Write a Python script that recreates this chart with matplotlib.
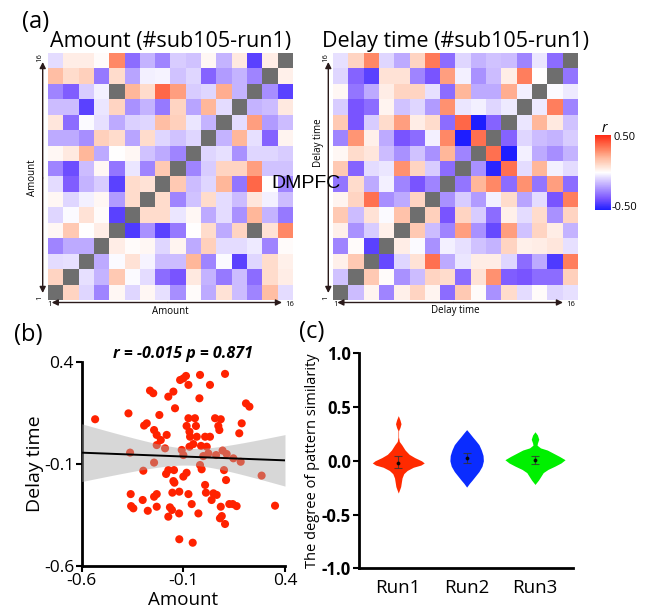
import numpy as np
import matplotlib
matplotlib.use("Agg")
import matplotlib.pyplot as plt
from matplotlib.colors import LinearSegmentedColormap
from matplotlib.patches import FancyArrowPatch

plt.rcParams['font.family'] = ['Open Sans', 'DejaVu Sans']
plt.rcParams['axes.unicode_minus'] = False

nan = np.nan

# RSA matrices, rows listed from top (item 16) to bottom (item 1), columns 1..16
amount_rsm = [
    [-0.07, 0.05, 0.05, 0.01, 0.30, -0.30, -0.15, -0.25, -0.10, -0.12, 0.02, -0.15, 0.06, -0.40, 0.05, nan],
    [0.18, 0.10, 0.13, -0.27, 0.10, -0.18, -0.03, -0.02, -0.12, -0.08, -0.32, -0.20, -0.15, -0.25, nan, 0.04],
    [-0.25, -0.33, -0.10, -0.03, nan, 0.20, 0.10, 0.37, 0.25, -0.10, -0.08, 0.22, -0.15, nan, -0.23, -0.40],
    [-0.13, -0.13, -0.40, -0.05, 0.12, -0.22, -0.15, -0.27, 0.12, -0.18, 0.20, -0.07, nan, -0.15, -0.13, 0.06],
    [0.07, -0.30, -0.01, -0.06, -0.17, -0.09, -0.08, 0.18, 0.13, -0.05, -0.15, nan, -0.07, 0.25, -0.20, -0.13],
    [-0.17, -0.17, -0.23, 0.13, 0.10, -0.18, 0.10, -0.08, -0.12, -0.08, nan, -0.15, 0.20, -0.06, -0.32, 0.03],
    [0.02, 0.06, 0.20, -0.17, 0.00, 0.02, -0.12, -0.17, -0.25, nan, -0.08, -0.06, -0.22, -0.08, -0.08, -0.10],
    [-0.25, -0.37, -0.13, 0.02, -0.28, -0.05, -0.25, 0.15, nan, -0.25, -0.10, 0.12, 0.12, 0.25, -0.12, -0.12],
    [-0.07, -0.33, -0.15, -0.10, -0.40, 0.10, 0.08, nan, 0.15, -0.13, -0.08, 0.20, -0.28, 0.37, 0.00, -0.25],
    [0.02, -0.08, -0.03, 0.02, -0.20, 0.10, nan, 0.10, -0.25, -0.12, 0.10, -0.07, -0.13, 0.07, -0.03, -0.13],
    [-0.08, -0.01, 0.08, 0.01, -0.40, nan, 0.10, 0.10, -0.05, 0.02, -0.17, -0.07, -0.22, 0.20, -0.15, -0.27],
    [0.02, 0.15, 0.00, 0.05, nan, -0.42, -0.22, -0.40, -0.27, 0.00, 0.10, -0.17, 0.12, nan, 0.08, 0.30],
    [-0.25, -0.17, -0.17, nan, 0.05, 0.01, 0.02, -0.08, 0.03, -0.17, 0.13, -0.07, -0.07, -0.04, -0.25, 0.01],
    [-0.07, -0.06, nan, -0.17, -0.01, 0.08, -0.02, -0.13, -0.13, 0.20, -0.25, -0.01, -0.40, -0.08, 0.10, 0.04],
    [0.12, nan, -0.06, -0.15, 0.15, -0.01, -0.07, -0.30, -0.35, 0.06, -0.15, -0.27, -0.13, -0.30, 0.10, 0.05],
    [nan, 0.12, -0.08, -0.25, 0.02, -0.08, 0.02, -0.06, -0.23, 0.01, -0.17, 0.08, -0.13, -0.25, 0.18, -0.07],
]

delay_rsm = [
    [-0.06, 0.12, 0.30, -0.08, -0.17, 0.12, 0.33, -0.30, -0.08, -0.15, -0.12, -0.13, -0.25, -0.05, -0.30, nan],
    [-0.08, -0.32, -0.40, 0.08, 0.08, -0.25, -0.35, 0.25, -0.03, -0.22, -0.13, 0.05, 0.32, 0.00, nan, -0.28],
    [0.02, -0.28, -0.17, 0.05, 0.12, 0.12, -0.06, -0.30, 0.20, -0.17, -0.17, 0.22, -0.03, nan, -0.01, -0.04],
    [-0.10, -0.35, -0.30, 0.03, -0.12, -0.08, -0.20, 0.28, -0.05, -0.03, -0.08, -0.04, nan, -0.04, 0.32, -0.25],
    [0.15, -0.35, -0.10, 0.10, 0.25, 0.05, 0.10, -0.30, 0.37, -0.50, -0.32, nan, -0.05, 0.20, 0.06, -0.12],
    [-0.25, 0.27, 0.04, -0.17, -0.35, -0.30, -0.03, 0.30, -0.50, 0.35, nan, -0.32, -0.08, -0.13, -0.15, -0.10],
    [0.02, 0.10, 0.07, -0.13, -0.22, -0.12, -0.22, 0.20, -0.25, nan, 0.35, -0.50, -0.03, -0.17, -0.23, -0.15],
    [0.15, -0.32, -0.07, -0.05, 0.28, 0.12, -0.10, -0.30, nan, -0.22, -0.48, 0.35, -0.07, 0.20, -0.03, -0.07],
    [-0.28, 0.10, -0.17, -0.03, -0.25, -0.35, -0.25, nan, -0.28, 0.20, 0.30, -0.30, 0.28, -0.28, 0.25, -0.30],
    [0.03, 0.12, 0.35, -0.23, -0.17, 0.12, nan, -0.22, -0.10, -0.20, -0.03, 0.10, -0.18, -0.07, -0.35, 0.32],
    [0.15, -0.13, 0.08, -0.01, 0.17, nan, 0.13, -0.35, 0.12, -0.10, -0.30, 0.04, -0.07, 0.10, -0.22, 0.12],
    [0.04, -0.22, -0.10, 0.04, nan, 0.15, -0.13, -0.25, 0.25, -0.22, -0.38, 0.25, -0.12, 0.12, 0.05, -0.15],
    [-0.25, 0.01, -0.40, nan, 0.05, -0.01, -0.22, -0.03, -0.06, -0.12, -0.15, 0.12, 0.04, 0.05, 0.07, -0.06],
    [0.04, 0.15, nan, -0.38, -0.08, 0.08, 0.35, -0.17, -0.05, 0.05, 0.05, -0.08, -0.30, -0.17, -0.42, 0.32],
    [-0.12, nan, 0.15, 0.01, -0.22, -0.13, 0.12, 0.10, -0.30, 0.08, 0.28, -0.33, -0.35, -0.30, -0.30, 0.13],
    [nan, -0.13, 0.03, -0.25, 0.04, 0.12, 0.03, -0.30, 0.15, 0.01, -0.22, 0.10, -0.07, 0.01, -0.08, -0.06],
]

# scatter (b)
amount_sim = [-0.018, 0.105, -0.116, -0.100, -0.087, -0.075, -0.149, -0.174, -0.264, -0.248, -0.021, 0.031, -0.141, 0.208, 0.225,
              -0.534, -0.370, -0.218, -0.293, -0.280, -0.075, -0.043, -0.084, -0.038, 0.056, 0.084, 0.072, 0.077, 0.187, -0.244,
              -0.231, -0.182, -0.070, -0.034, -0.067, 0.007, 0.031, 0.175,
              -0.362, -0.244, -0.211, -0.190, -0.108, -0.070, -0.051, -0.013, 0.015, -0.100, -0.002, 0.023, 0.061, 0.093, 0.113,
              0.146, 0.182, -0.231,
              -0.297, -0.185, -0.174, -0.146, -0.149, -0.144, -0.100, -0.084, -0.018, -0.010, 0.100, 0.110, 0.285, 0.007, -0.120,
              -0.154, -0.075, 0.011, 0.048, 0.064, -0.359, -0.244, -0.231, -0.300, 0.039,
              -0.357, -0.346, -0.275, -0.231, -0.166, -0.156, -0.174, -0.121, -0.059, -0.026, 0.084, 0.080, 0.089, 0.105, 0.126,
              0.143, 0.162, 0.351, -0.120, -0.054]
delay_sim = [0.338, 0.343, 0.313, 0.321, 0.333, 0.289, 0.256, 0.231, 0.261, 0.248, 0.223, 0.289, 0.174, 0.198, 0.182,
             0.120, 0.149, 0.141, 0.089, 0.100, 0.125, 0.125, 0.087, 0.087, 0.125, 0.120, 0.087, 0.067, 0.100, 0.067,
             0.043, 0.043, 0.059, 0.034, 0.034, 0.034, 0.034, 0.051,
             -0.044, -0.093, 0.018, -0.023, -0.031, -0.015, -0.002, -0.011, -0.015, -0.056, -0.061, -0.048, -0.056, -0.034, -0.051,
             -0.072, -0.089, -0.007,
             -0.133, -0.149, -0.130, -0.130, -0.184, -0.192, -0.162, -0.143, -0.105, -0.126, -0.130, -0.179, -0.157, -0.203, -0.236,
             -0.241, -0.248, -0.241, -0.244, -0.252, -0.248, -0.261, -0.248, -0.277, -0.277,
             -0.307, -0.318, -0.330, -0.310, -0.313, -0.326, -0.359, -0.343, -0.297, -0.343, -0.310, -0.367, -0.356, -0.395, -0.297,
             -0.297, -0.307, -0.305, -0.470, -0.487]

# violin (c): density outline (y, half width)
runs = ['Run1', 'Run2', 'Run3']
run_colors = ['#ff2a00', '#0a2cff', '#00f000']
run1_y = [0.42, 0.38, 0.345, 0.31, 0.28, 0.22, 0.18, 0.15, 0.10, 0.06, 0.03, 0.00, -0.02, -0.04, -0.06, -0.09, -0.12, -0.16, -0.20, -0.24, -0.27, -0.30]
run1_w = [0.0, 0.025, 0.04, 0.025, 0.004, 0.004, 0.015, 0.05, 0.10, 0.16, 0.24, 0.34, 0.38, 0.33, 0.22, 0.13, 0.08, 0.055, 0.045, 0.035, 0.018, 0.0]
run2_y = [0.29, 0.26, 0.22, 0.19, 0.15, 0.10, 0.05, 0.00, -0.05, -0.10, -0.14, -0.18, -0.21, -0.245]
run2_w = [0.0, 0.04, 0.09, 0.13, 0.18, 0.215, 0.24, 0.245, 0.225, 0.18, 0.13, 0.08, 0.04, 0.0]
run3_y = [0.27, 0.24, 0.20, 0.165, 0.145, 0.12, 0.10, 0.07, 0.04, 0.01, -0.02, -0.05, -0.08, -0.11, -0.15, -0.18, -0.22]
run3_w = [0.0, 0.035, 0.055, 0.035, 0.03, 0.08, 0.18, 0.27, 0.36, 0.44, 0.38, 0.29, 0.19, 0.12, 0.08, 0.05, 0.0]
run_mean = [-0.016, 0.025, 0.003]
run_lo = [-0.068, -0.021, -0.031]
run_hi = [0.047, 0.072, 0.040]

W, H = 649, 610
fig = plt.figure(figsize=(W / 100, H / 100), dpi=100)


def fx(px):
    return px / W


def fy(py):
    return 1 - py / H


def box(l, t, r, b):
    return [fx(l), fy(b), fx(r) - fx(l), fy(t) - fy(b)]


cmap = LinearSegmentedColormap.from_list('rsa', [
    (0.0, '#1e1eff'), (0.15, '#7a55ff'), (0.3, '#b29cff'), (0.4, '#d8ccff'),
    (0.5, '#ffffff'), (0.6, '#ffdccc'), (0.7, '#ffb89c'), (0.8, '#ff8866'),
    (0.9, '#ff5a3c'), (1.0, '#ff2a14')])
cmap.set_bad('#6e6e6e')

arrow_col = '#2a1a1a'


def arrow(p0, p1):
    a = FancyArrowPatch((fx(p0[0]), fy(p0[1])), (fx(p1[0]), fy(p1[1])),
                        arrowstyle='-|>', mutation_scale=9, lw=1.0, color=arrow_col,
                        shrinkA=0, shrinkB=0, transform=fig.transFigure)
    fig.add_artist(a)


def heatmap(l, mat, title, label, ylab_y, xr):
    ax = fig.add_axes(box(l, 53, l + 245, 300))
    im = ax.imshow(np.array(mat, dtype=float), cmap=cmap, vmin=-0.5, vmax=0.5,
                   interpolation='nearest', aspect='auto')
    ax.axis('off')
    fig.text(fx(l + 122.5), fy(42), title, ha='center', va='center', fontsize=15.5)
    # vertical arrow
    vx = l - 5
    mid = 178
    arrow((vx, mid), (vx, 62))
    arrow((vx, mid), (vx, 293))
    fig.text(fx(vx - 3), fy(58), '16', rotation=90, ha='center', va='center', fontsize=5.5)
    fig.text(fx(vx - 3), fy(298), '1', rotation=90, ha='center', va='center', fontsize=5.5)
    fig.text(fx(vx - 10), fy(ylab_y), label, rotation=90, ha='center', va='center', fontsize=7)
    # horizontal arrow
    hy = 302.5
    arrow((l + 120, hy), (l + 4, hy))
    arrow((l + 120, hy), (xr, hy))
    fig.text(fx(l + 2), fy(305), '1', ha='center', va='center', fontsize=5.5)
    fig.text(fx(xr + 8), fy(305), '16', ha='center', va='center', fontsize=5.5)
    fig.text(fx(l + 122.5), fy(311), label, ha='center', va='center', fontsize=7)
    return im


im = heatmap(47.7, amount_rsm, 'Amount (#sub105-run1)', 'Amount', 178, 282)
heatmap(333.3, delay_rsm, 'Delay time (#sub105-run1)', 'Delay time', 143, 563)

fig.text(fx(306), fy(183), 'DMPFC', ha='center', va='center', fontsize=14,
         family=['Liberation Sans', 'DejaVu Sans'])

cax = fig.add_axes(box(595, 135, 610.5, 210))
cb = fig.colorbar(im, cax=cax, ticks=[])
cb.outline.set_visible(False)
fig.text(fx(604), fy(128), 'r', style='italic', ha='center', va='center', fontsize=10)
fig.text(fx(613), fy(137), '0.50', ha='left', va='center', fontsize=8)
fig.text(fx(612), fy(208), '-0.50', ha='left', va='center', fontsize=8)

fig.text(fx(36), fy(22), '(a)', ha='center', va='center', fontsize=17)
fig.text(fx(28), fy(335), '(b)', ha='center', va='center', fontsize=17)
fig.text(fx(312), fy(332), '(c)', ha='center', va='center', fontsize=17)

# (b) scatter with fitted line and 95% CI
ax_b = fig.add_axes(box(81.7, 362.3, 285, 565.7))
xs = np.array(amount_sim)
ys = np.array(delay_sim)
ax_b.scatter(xs, ys, s=34, color='#ff2200', edgecolors='none', zorder=2)
slope, icpt = np.polyfit(xs, ys, 1)
xx = np.linspace(-0.6, 0.4, 100)
yy = icpt + slope * xx
n = len(xs)
resid = ys - (icpt + slope * xs)
s_err = np.sqrt(np.sum(resid ** 2) / (n - 2))
ci = 1.98 * s_err * np.sqrt(1 / n + (xx - xs.mean()) ** 2 / np.sum((xs - xs.mean()) ** 2))
ax_b.fill_between(xx, yy - ci, yy + ci, color='#a8a8a8', alpha=0.45, lw=0, zorder=3)
ax_b.plot(xx, yy, color='black', lw=1.4, zorder=4)
ax_b.set_xlim(-0.6, 0.4)
ax_b.set_ylim(-0.6, 0.4)
ax_b.set_xticks([-0.6, -0.1, 0.4])
ax_b.set_yticks([-0.6, -0.1, 0.4])
ax_b.set_xticklabels(['-0.6', '-0.1', '0.4'])
ax_b.set_yticklabels(['-0.6', '-0.1', '0.4'])
ax_b.tick_params(labelsize=12.5, width=1.5, length=4, pad=1.5)
for sp in ['top', 'right']:
    ax_b.spines[sp].set_visible(False)
for sp in ['left', 'bottom']:
    ax_b.spines[sp].set_linewidth(2)
ax_b.set_xlabel('Amount', fontsize=13.5)
ax_b.xaxis.set_label_coords(0.5, -0.125)
ax_b.set_ylabel('Delay time', fontsize=14, labelpad=0)
ax_b.set_title('r = -0.015 p = 0.871', fontsize=11.5, fontweight='bold', style='italic', pad=-1)

# (c) violins
ax_c = fig.add_axes(box(359.3, 353.3, 573.3, 568.3))
prof = [(run1_y, run1_w), (run2_y, run2_w), (run3_y, run3_w)]
for k, (py, pw) in enumerate(prof):
    py = np.array(py)
    pw = np.array(pw)
    ax_c.fill_betweenx(py, k - pw, k + pw, color=run_colors[k], lw=0)
    ax_c.errorbar(k, run_mean[k], yerr=[[run_mean[k] - run_lo[k]], [run_hi[k] - run_mean[k]]],
                  fmt='o', ms=1.8, color='black', ecolor='#333333', elinewidth=0.8, capsize=3, capthick=0.8, alpha=0.8)
ax_c.set_xlim(-0.57, 2.56)
ax_c.set_ylim(-1.0, 1.0)
ax_c.set_xticks(range(3))
ax_c.set_xticklabels(runs, fontsize=13.5)
ax_c.set_yticks([-1.0, -0.5, 0.0, 0.5, 1.0])
ax_c.set_yticklabels(['-1.0', '-0.5', '0.0', '0.5', '1.0'], fontsize=12, fontweight='bold')
ax_c.tick_params(axis='x', length=0, pad=8)
ax_c.tick_params(axis='y', width=1.5, length=4, pad=2)
for sp in ['top', 'right']:
    ax_c.spines[sp].set_visible(False)
for sp in ['left', 'bottom']:
    ax_c.spines[sp].set_linewidth(2)
ax_c.set_ylabel('The degree of pattern similarity', fontsize=10.5, labelpad=1)

fig.savefig('out.png', dpi=100)
